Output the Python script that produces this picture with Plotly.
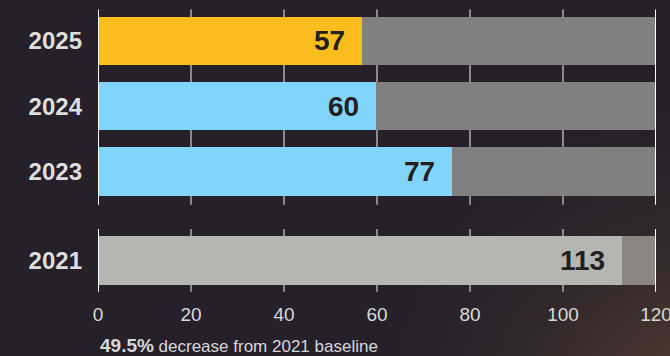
import base64
import plotly.graph_objects as go

# ---- data ----
years = ["2025", "2024", "2023", "2021"]
ypos = [3.36, 2.36, 1.36, 0.0]
values = [56.8, 59.8, 76.2, 112.6]
labels = ["57", "60", "77", "113"]
track_max = [120, 120, 120, 120]
xticks = [0, 20, 40, 60, 80, 100, 120]
footer_bold = "49.5%"
footer_rest = " decrease from 2021 baseline"

# ---- style ----
bar_colors = ["#fbbd1d", "#82d5fa", "#82d5fa", "#b5b5b2"]
track_colors = ["#808080", "#808080", "#808080", "#8a8782"]
bg = "#25202a"
groups = [(0.85, 3.84), (-0.48, 0.48)]
FONT = "Liberation Sans, Arial, sans-serif"

fig = go.Figure()
fig.add_trace(go.Bar(x=track_max, y=ypos, orientation="h", width=0.74,
                     marker=dict(color=track_colors, line=dict(width=0)),
                     hoverinfo="skip", showlegend=False))
fig.add_trace(go.Bar(x=values, y=ypos, orientation="h", width=0.74,
                     marker=dict(color=bar_colors, line=dict(width=0)),
                     showlegend=False))

shapes = []
for xv in xticks:
    edge = xv in (xticks[0], xticks[-1])
    for (y0, y1) in groups:
        shapes.append(dict(type="line", xref="x", yref="y", x0=xv, x1=xv, y0=y0, y1=y1,
                           line=dict(color="#ffffff" if edge else "#d0d0d0",
                                     width=2 if edge else 1.2),
                           layer="above" if edge else "below"))

annotations = []
for v, y, t in zip(values, ypos, labels):
    annotations.append(dict(x=v, y=y, xref="x", yref="y", text=f"<b>{t}</b>",
                            showarrow=False, xanchor="right", yanchor="middle",
                            xshift=-15, font=dict(family=FONT, size=28, color="#231f20")))
annotations.append(dict(x=0, y=-0.182, xref="x", yref="paper",
                        text=f"<b><span style='font-size:19px'>{footer_bold}</span></b>{footer_rest}",
                        showarrow=False, xanchor="left", yanchor="middle", xshift=0,
                        font=dict(family=FONT, size=17, color="#d8d8d8")))

svg = ("<svg xmlns='http://www.w3.org/2000/svg' width='670' height='356'>"
       "<defs><radialGradient id='g' cx='710' cy='430' r='330' gradientUnits='userSpaceOnUse'>"
       "<stop offset='0' stop-color='#a0703a' stop-opacity='0.45'/>"
       "<stop offset='0.5' stop-color='#8a6035' stop-opacity='0.18'/>"
       "<stop offset='1' stop-color='#6b4a2a' stop-opacity='0'/></radialGradient></defs>"
       "<rect width='670' height='356' fill='url(#g)'/></svg>")
src = "data:image/svg+xml;base64," + base64.b64encode(svg.encode()).decode()

W, H, ml, mr, mt, mb = 670, 356, 98, 14, 7, 63
pw, ph = W - ml - mr, H - mt - mb

fig.update_layout(
    width=W, height=H, barmode="overlay",
    margin=dict(l=ml, r=mr, t=mt, b=mb, pad=0, autoexpand=False),
    paper_bgcolor=bg, plot_bgcolor="rgba(0,0,0,0)",
    shapes=shapes, annotations=annotations,
    images=[dict(source=src, xref="paper", yref="paper", x=-ml / pw, y=1 + mt / ph,
                 sizex=W / pw, sizey=H / ph, sizing="stretch", layer="below",
                 xanchor="left", yanchor="top")],
    xaxis=dict(range=[0, 120], tickvals=xticks, showgrid=False, zeroline=False,
               showline=False, ticks="", ticklabelstandoff=8, ticklabeloverflow="allow",
               automargin=False,
               tickfont=dict(family=FONT, size=19, color="#d9d9d9"), fixedrange=True),
    yaxis=dict(range=[-0.5, 3.88], tickvals=ypos, ticktext=[f"<b>{y}</b>" for y in years],
               showgrid=False, zeroline=False, showline=False, ticks="",
               ticklabelstandoff=15, automargin=False,
               tickfont=dict(family=FONT, size=24, color="#dedede"), fixedrange=True),
    bargap=0,
)

fig.write_html("out.html", config={"displayModeBar": False})
